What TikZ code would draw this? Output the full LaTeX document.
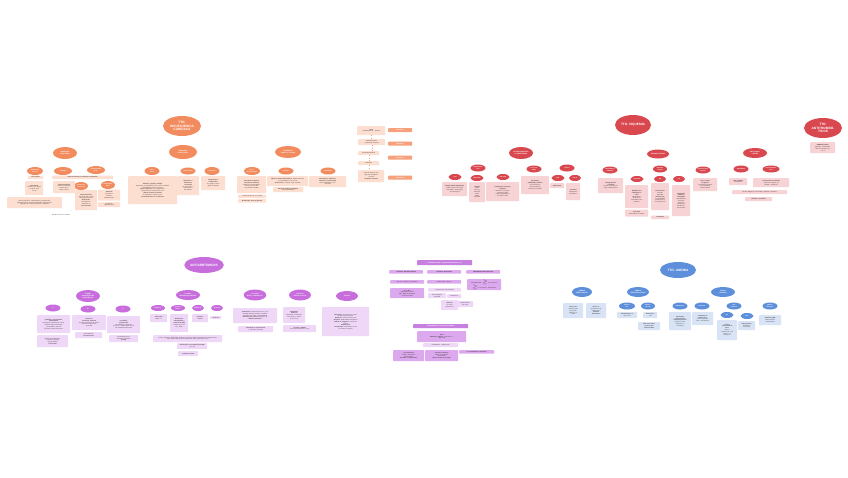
\documentclass[tikz,border=0pt]{standalone}
\usepackage{fontspec}
\setmainfont{Liberation Sans}
\usetikzlibrary{shapes.geometric}
\definecolor{ora}{HTML}{F28B5E}
\definecolor{oral}{HTML}{FDDFD2}
\definecolor{orat}{HTML}{F6A07C}
\definecolor{redb}{HTML}{D9474F}
\definecolor{redl}{HTML}{F7D3D5}
\definecolor{purb}{HTML}{C86DDC}
\definecolor{purl}{HTML}{EFD8F7}
\definecolor{purm}{HTML}{DCA9EE}
\definecolor{purh}{HTML}{C77FE0}
\definecolor{blub}{HTML}{5E8FDB}
\definecolor{blul}{HTML}{D8E4F6}
\definecolor{txt}{HTML}{3D3535}
\newcommand{\bxx}[6]{\node[#1, anchor=north west, text width=#4pt, minimum height=#5pt] (#2) at (#3) {#6};}
\newcommand{\blb}[6]{\node[#1, minimum width=#4pt, minimum height=#5pt] (#2) at (#3) {#6};}
\tikzset{
  blobbase/.style={ellipse, inner sep=0.1pt, text=white, align=center},
  bigblob/.style={blobbase, font=\fontsize{3.2}{3.7}\selectfont\bfseries},
  midblob/.style={blobbase, font=\fontsize{1.6}{1.9}\selectfont\bfseries},
  smblob/.style={blobbase, font=\fontsize{1.35}{1.6}\selectfont\bfseries},
  otitle/.style={bigblob, fill=ora}, oblob/.style={midblob, fill=ora}, osb/.style={smblob, fill=ora},
  rtitle/.style={bigblob, fill=redb}, rblob/.style={midblob, fill=redb}, rsb/.style={smblob, fill=redb},
  ptitle/.style={bigblob, fill=purb}, pblob/.style={midblob, fill=purb}, psb/.style={smblob, fill=purb},
  btitle/.style={bigblob, fill=blub}, bblob/.style={midblob, fill=blub}, bsb/.style={smblob, fill=blub},
  bxbase/.style={rectangle, rounded corners=0.6pt, inner xsep=0.5pt, inner ysep=0.3pt,
    font=\fontsize{1.45}{1.8}\selectfont, text=txt, align=center},
  obx/.style={bxbase, fill=oral}, otag/.style={bxbase, fill=orat, font=\fontsize{1.45}{1.8}\selectfont\bfseries, text=white},
  rbx/.style={bxbase, fill=redl}, pbx/.style={bxbase, fill=purl}, pmx/.style={bxbase, fill=purm},
  phx/.style={bxbase, fill=purh, text=white, font=\fontsize{1.45}{1.8}\selectfont\bfseries},
  bbx/.style={bxbase, fill=blul},
  otxt/.style={font=\fontsize{1.45}{1.8}\selectfont, text=txt, inner sep=0.3pt},
  ocon/.style={draw=orat, line width=0.4pt, dotted}
}
\begin{document}
\begin{tikzpicture}[x=1pt, y=-1pt]
\fill[white] (0,0) rectangle (848,477);
\useasboundingbox (0,0) rectangle (848,477);
% ================= ORANGE: INSUFICIENCIA CARDIACA =================
\blb{otitle}{IC}{182,126}{38}{20}{TTO.\\INSUFICIENCIA\\CARDIACA}
\blb{oblob}{oA}{65,153}{24}{12}{DISMINUIR\\PRECARGA}
\blb{oblob}{oB}{183,152}{28}{14}{DISMINUIR\\POSTCARGA}
\blb{oblob}{oC}{288,152}{26}{12}{AUMENTAR\\CONTRACTILIDAD}
\blb{osb}{oa1}{35,171}{16}{8}{DIURÉTICOS\\DE ASA}
\blb{osb}{oa2}{63,171}{18}{8}{TIAZIDAS}
\blb{osb}{oa3}{96,170}{18}{8}{AHORRADORES\\DE K+}
\blb{osb}{oa4}{81,186}{14}{8}{ANTIALDOS-\\TERÓNICOS}
\blb{osb}{oa5}{108,185}{14}{8}{INHIBIDORES\\ENaC}
\bxx{obx}{ol1}{28,175.5}{14}{3.5}{\textbf{Furosemida}}
\bxx{obx}{ol2}{52,175.5}{60}{3.5}{\textbf{Hidroclorotiazida, clortalidona, indapamida}}
\bxx{obx}{ob1}{25,181}{17}{14}{\textbf{Furosemida}\\Edemas, ICC aguda\\y crónica, HTA\\con IR}
\bxx{obx}{ob2}{53,181}{21}{12}{\textbf{Hidroclorotiazida}\\HTA leve-moderada,\\edemas leves,\\litiasis cálcica}
\bxx{obx}{ob3}{75,190}{21}{20}{\textbf{Espironolactona}\\ICC grave (FE < 35\%),\\hiperaldosteronismo\\\textbf{Eplerenona}\\post-IAM con\\disfunción VI\\\textbf{Ginecomastia}}
\bxx{obx}{ob4}{98,189.5}{21}{11}{\textbf{Amilorida}\\triamtereno\\Evitan la\\hipopotasemia}
\bxx{obx}{ob5}{98,202}{21}{5}{Riesgo de\\hiperpotasemia}
\bxx{obx}{ob6}{7,197}{54}{11}{Efectos adversos: hipopotasemia, hiponatremia,\\hipomagnesemia, alcalosis metabólica, hiperuricemia,\\hiperglucemia, ototoxicidad (asa), dislipemia}
\node[otxt] (ob7) at (61,215) {Diuréticos de asa > tiazidas};
\blb{osb}{obl1}{152,171}{15}{8}{IECA\\ARA II}
\blb{osb}{obl2}{188,171}{15}{7}{HIDRALAZINA}
\blb{osb}{obl3}{212,171}{15}{8}{NITRATOS}
\bxx{obx}{obb1}{128,176}{48}{28}{\textbf{Enalapril, captopril, ramipril}\\Disminuyen la mortalidad en ICC con FE reducida.\\Vasodilatación arterial y venosa\\\textbf{Efectos adversos:} tos, angioedema,\\hiperpotasemia, insuficiencia renal\\\textbf{ARA II: losartán, valsartán}\\si intolerancia a IECA por tos\\\textbf{Contraindicados en el embarazo}}
\bxx{obx}{obb2}{177,176}{21}{19}{\textbf{Hidralazina +}\\\textbf{dinitrato de}\\\textbf{isosorbida}\\En raza negra o\\intolerancia a\\IECA/ARA II}
\bxx{obx}{obb3}{201,176}{23}{14}{\textbf{Nitroglicerina,}\\\textbf{nitroprusiato}\\ICC aguda, edema\\agudo de pulmón}
\blb{osb}{oc1}{252,171}{16}{8}{BETA-\\BLOQUEANTES}
\blb{osb}{oc2}{286,171}{15}{7}{DIGOXINA}
\blb{osb}{oc3}{328,171}{15}{7}{INOTROPOS}
\bxx{obx}{obc1}{237,176}{28}{17}{\textbf{Carvedilol, bisoprolol,}\\\textbf{metoprolol, nebivolol}\\Disminuyen la mortalidad.\\Iniciar a dosis bajas\\en pacientes estables}
\bxx{obx}{obc2}{238,194.5}{27}{3.5}{Contraindicados en ICC aguda}
\bxx{obx}{obc3}{238,199}{27}{3.5}{\textbf{Bradicardia, broncoespasmo}}
\bxx{obx}{obc4}{267,176}{40}{10}{\textbf{Inhibe la bomba Na/K ATPasa.} Mejora síntomas,\\no la mortalidad. ICC con FA\\\textbf{Intoxicación:} náuseas, visión amarilla}
\bxx{obx}{obc5}{273,187}{29}{5}{\textbf{Estrecho margen terapéutico}\\niveles plasmáticos}
\bxx{obx}{obc6}{309,176}{36}{11}{\textbf{Dobutamina, dopamina,}\\\textbf{milrinona, levosimendán}\\Shock cardiogénico, ICC\\refractaria}
% steps
\bxx{obx}{os1}{357,126}{27}{9}{\textbf{IECA}\\+ betabloqueante + diurético}
\bxx{obx}{os2}{358,139}{26}{6}{Antialdosterónico\\si persisten síntomas}
\bxx{obx}{os3}{358,151}{20}{4}{Sacubitrilo/valsartán}
\bxx{obx}{os4}{358,161}{20}{4}{Ivabradina}
\bxx{obx}{os5}{358,170}{25}{12}{Resincronización, DAI,\\digoxina, hidralazina\\+ nitratos\\\textbf{Trasplante cardíaco}}
\bxx{otag}{ot1}{388,128}{23}{4}{ESTADIO 1}
\bxx{otag}{ot2}{388,141.5}{23}{4}{ESTADIO 2}
\bxx{otag}{ot3}{388,155.5}{23}{4}{ESTADIO 3}
\bxx{otag}{ot4}{388,175.5}{23}{4}{ESTADIO 4}
\draw[ocon] (os1.south) -- (os1.south |- os2.north);
\draw[ocon] (os2.south) -- (os2.south |- os3.north);
\draw[ocon] (os3.south) -- (os3.south |- os4.north);
\draw[ocon] (os4.south) -- (os4.south |- os5.north);
% ================= RED: ANTIAGREGANTES =================
\blb{rblob}{rA}{521,153}{24}{12}{ANTIAGREGANTES\\PLAQUETARIOS}
\blb{rsb}{ra1}{478,168}{15}{7}{INHIBIDORES\\COX}
\blb{rsb}{ra2}{534,169}{15}{7}{BLOQ. GP\\IIb/IIIa}
\blb{rsb}{ra3}{567,168}{15}{7}{OTROS}
\blb{rsb}{ra4}{455,177}{13}{6}{AAS}
\blb{rsb}{ra5}{477,178}{13}{6}{TRIFLUSAL}
\blb{rsb}{ra6}{503,177}{13}{6}{ANTI-ADP}
\blb{rsb}{ra7}{558,178}{13}{6}{PDE}
\blb{rsb}{ra8}{575,178}{12}{6}{PDE III}
\bxx{rbx}{rab1}{442,182}{24}{14}{\textbf{ÁCIDO ACETILSALICÍLICO}\\Inhibe la COX-1 de forma\\irreversible. Dosis bajas\\75--300 mg/día}
\bxx{rbx}{rab2}{469,182}{15}{20}{\textbf{Triflusal}\\Inhibe\\COX-1 y\\fosfodies-\\terasa\\Menos\\sangrado}
\bxx{rbx}{rab3}{486,182}{32}{19}{\textbf{Clopidogrel, prasugrel,}\\\textbf{ticagrelor}\\Bloquean el receptor\\P2Y12 del ADP\\Doble antiagregación\\tras SCA o stent}
\bxx{rbx}{rab4}{521,176}{27}{18}{\textbf{Abciximab,}\\\textbf{eptifibatida, tirofibán}\\Vía intravenosa.\\Intervencionismo\\coronario percutáneo}
\bxx{rbx}{rab5}{550,183}{13}{5}{\textbf{Dipiridamol}}
\bxx{rbx}{rab6}{566,183}{13}{17}{\textbf{Cilostazol}\\Claudicación\\intermitente}
% ================= RED: ISQUEMIA =================
\blb{rtitle}{rI}{633,125}{36}{20}{TTO. ISQUEMIA}
\blb{rblob}{rI1}{658,154}{22}{9}{ANGINA ESTABLE}
\blb{rsb}{rI2}{610,170}{15}{7}{TRATAMIENTO\\GENERAL}
\blb{rsb}{rI3}{660,169}{14}{7}{ANTIANGI-\\NOSOS}
\blb{rsb}{rI4}{637,179}{13}{6}{NITRATOS}
\blb{rsb}{rI5}{660,179}{12}{6}{BB}
\blb{rsb}{rI6}{679,179}{12}{6}{ACA}
\blb{rsb}{rI7}{703,170}{15}{7}{REVASCULARI-\\ZACIÓN}
\bxx{rbx}{rib1}{598,178}{24}{15}{\textbf{Antiagregación}\\\textbf{+ estatinas}\\Control de factores de\\riesgo cardiovascular}
\bxx{rbx}{rib2}{625,185}{22}{23}{\textbf{Nitroglicerina}\\\textbf{sublingual en}\\\textbf{crisis}\\Mononitrato y\\dinitrato de\\isosorbida como\\profilaxis}
\bxx{rbx}{rib3}{625,209.5}{22}{7}{\textbf{Tolerancia}\\periodo libre de nitratos}
\bxx{rbx}{rib4}{651,183}{17}{27}{\textbf{Primera línea}\\Atenolol,\\bisoprolol\\\textbf{Reducen FC}\\y contractilidad\\Disminuyen el\\consumo de O2}
\bxx{rbx}{rib5}{651,215.5}{17}{3.5}{\textbf{Ivabradina}}
\bxx{rbx}{rib6}{672,185}{17}{31}{\textbf{Verapamilo,}\\\textbf{diltiazem,}\\\textbf{amlodipino}\\Vasodilatación\\coronaria.\\Angina de\\Prinzmetal\\Ranolazina,\\trimetazidina}
\bxx{rbx}{rib7}{693,178}{23}{13}{\textbf{ICP o cirugía}\\\textbf{de bypass}\\Si persisten síntomas\\con tratamiento\\médico óptimo}
% ================= RED: ANTICOAGULANTES =================
\blb{rblob}{rC}{755,153}{24}{10}{ANTICOAGU-\\LANTES}
\blb{rsb}{rC1}{741,169}{15}{7}{HEPARINAS}
\blb{rsb}{rC2}{771,169}{17}{7}{ANTAGONISTAS\\VIT. K}
\bxx{rbx}{rcb1}{729,178}{17}{7}{\textbf{HNF y HBPM}\\enoxaparina}
\bxx{rbx}{rcb2}{753,178}{35}{9}{\textbf{Acenocumarol, warfarina}\\Control con INR (2--3)\\Antídoto: vitamina K}
\bxx{rbx}{rcb3}{732,190}{54}{4}{ACOD: dabigatrán, rivaroxabán, apixabán, edoxabán}
\bxx{rbx}{rcb4}{745,197}{26}{4}{\textbf{Antídoto: protamina}}
\blb{rtitle}{rT}{823,128}{38}{20}{TTO.\\ANTITROMBÓ-\\TICOS}
\bxx{rbx}{rT1}{810,142}{24}{11}{\textbf{FIBRINOLÍTICOS}\\Alteplasa, tenecteplasa\\IAM con elevación ST\\< 12 h}
% ================= PURPLE: ANTIARRITMICOS =================
\blb{ptitle}{pT}{204,265}{36}{16}{ANTIARRÍTMICOS}
\blb{pblob}{pA}{88,296}{24}{12}{CLASE I\\BLOQUEANTES\\CANALES Na+}
\blb{psb}{pa1}{53,308}{15}{7}{IA}
\blb{psb}{pa2}{88,309}{15}{7}{IB}
\blb{psb}{pa3}{123,309}{15}{7}{IC}
\bxx{pbx}{pab1}{37,315}{32}{18}{\textbf{Quinidina, procainamida,}\\\textbf{disopiramida}\\Prolongan el potencial de acción.\\Arritmias supraventriculares\\y ventriculares. Efectos:\\QT largo, torsade de pointes}
\bxx{pbx}{pab2}{37,335}{30}{12}{Efectos anticolinérgicos,\\síndrome lupus-like\\(procainamida)\\\textbf{Cinconismo}}
\bxx{pbx}{pab3}{72,315}{33}{15}{\textbf{Lidocaína,}\\\textbf{mexiletina, fenitoína}\\Acortan el potencial de acción.\\Arritmias ventriculares\\post-IAM}
\bxx{pbx}{pab4}{75,332}{26}{6}{Toxicidad SNC\\\textbf{Vía intravenosa}}
\bxx{pbx}{pab5}{107,316}{32}{17}{\textbf{Flecainida,}\\\textbf{propafenona}\\No modifican el potencial\\de acción. Cardioversión de FA\\sin cardiopatía estructural}
\bxx{pbx}{pab6}{109,335}{28}{7}{Contraindicados en\\cardiopatía isquémica\\\textbf{(CAST)}}
\blb{pblob}{pB}{188,295}{24}{10}{CLASE II\\BETABLOQUEANTES}
\blb{psb}{pb1}{158,308}{14}{6}{ESMOLOL}
\blb{psb}{pb2}{178,308}{14}{6}{PROPRA-\\NOLOL}
\blb{psb}{pb3}{198,308}{12}{6}{ATENOLOL}
\blb{psb}{pb4}{217,308}{12}{6}{SOTALOL}
\bxx{pbx}{pbb1}{150,314}{16}{8}{\textbf{Vida media}\\\textbf{corta}, i.v.}
\bxx{pbx}{pbb2}{170,314}{17}{18}{\textbf{Disminuyen}\\\textbf{automatismo y}\\\textbf{conducción NAV}\\Control de FC en\\FA y flutter}
\bxx{pbx}{pbb3}{192,314}{15}{8}{\textbf{Cardiose-}\\\textbf{lectivo}}
\bxx{pbx}{pbb4}{210,316}{10}{3}{\textbf{Clase III}}
\bxx{pbx}{pbb5}{153,335}{68}{7}{Efectos adversos: bradicardia, bloqueo AV, broncoespasmo, hipoglucemia enmascarada,\\insuficiencia cardíaca descompensada, fatiga, disfunción eréctil}
\bxx{pbx}{pbb6}{177,343}{29}{6}{\textbf{Disminuyen la mortalidad post-IAM}\\y en ICC}
\bxx{pbx}{pbb7}{178,351}{19}{5}{\textbf{Profilaxis de MS}}
\blb{pblob}{pC}{255,295}{22}{11}{CLASE III\\BLOQ. CANALES K+}
\blb{pblob}{pD}{300,295}{22}{11}{CLASE IV\\ANTAG. CALCIO}
\blb{pblob}{pE}{347,296}{22}{10}{OTROS}
\bxx{pbx}{pcb1}{233,308}{43}{15}{\textbf{Amiodarona:} amplio espectro, FA y TV.\\Toxicidad tiroidea, pulmonar, hepática,\\depósitos corneales, fotosensibilidad\\\textbf{Dronedarona, sotalol:} prolongan QT\\\textbf{Ibutilida, dofetilida}}
\bxx{pbx}{pcb2}{238,326}{34}{6}{\textbf{Prolongan la repolarización}\\y el periodo refractario}
\bxx{pbx}{pdb1}{283,307}{21}{16}{\textbf{Verapamilo,}\\\textbf{diltiazem}\\Disminuyen conducción\\NAV. TPSV y control\\de FC en FA}
\bxx{pbx}{pdb2}{283,325}{32}{7}{\textbf{No usar en WPW}\\con FA preexcitada ni en ICC}
\bxx{pbx}{peb1}{322,307}{46}{29}{\textbf{Adenosina:} de elección en TPSV,\\bloqueo NAV transitorio.\\\textbf{Digoxina:} control de frecuencia\\\textbf{Atropina:} bradicardias sintomáticas\\\textbf{Sulfato de magnesio:} torsade de\\pointes\\\textbf{Isoproterenol}\\\textbf{Vernakalant:} cardioversión de FA\\de reciente comienzo}
% ================= PURPLE: FA TABLE =================
\bxx{phx}{ph1}{417,260}{54}{5}{TRATAMIENTO DE LA FIBRILACIÓN AURICULAR}
\bxx{pmx}{pt11}{389,270}{33}{3.5}{\textbf{CONTROL DE FRECUENCIA}}
\bxx{pmx}{pt12}{427,270}{33}{3.5}{\textbf{CONTROL DEL RITMO}}
\bxx{pmx}{pt13}{466,270}{33}{3.5}{\textbf{PREVENCIÓN DE EMBOLIAS}}
\bxx{pmx}{pt21}{390,280}{33}{3.5}{BB, ACA, digoxina, amiodarona}
\bxx{pmx}{pt22}{427,280}{33}{3.5}{Cardioversión eléctrica}
\bxx{pmx}{pt23}{467,279}{33}{7}{CHA2DS2-VASc $\geq$ 2 en varones,\\$\geq$ 3 en mujeres: anticoagular}
\bxx{pmx}{pt31}{390,288}{33}{10}{\textbf{FA < 48 h}\\cardioversión directa\\\textbf{FA > 48 h}: anticoagular\\3 semanas antes}
\bxx{pbx}{pt32}{428,288}{32}{3.5}{Cardioversión farmacológica}
\bxx{pbx}{pt33}{428,293}{17}{5}{Sin cardiopatía:\\flecainida}
\bxx{pbx}{pt34}{447,294}{13}{4}{Amiodarona}
\bxx{pbx}{pt35}{441,300}{16}{10}{\textbf{Ablación}\\de venas\\pulmonares}
\bxx{pbx}{pt36}{457,301}{15}{6}{Mantenimiento\\del ritmo}
\bxx{phx}{ph2}{413,324}{54}{4}{TRATAMIENTO DE LAS TAQUICARDIAS}
\bxx{pmx}{pq1}{417,331}{48}{11}{\textbf{TPSV}\\\textbf{Maniobras vagales}, adenosina i.v.,\\verapamilo}
\bxx{pbx}{pq2}{423,343}{34}{4}{Inestabilidad: cardioversión}
\bxx{pmx}{pq3}{393,350}{30}{11}{\textbf{TV monomorfa}\\estable: amiodarona,\\procainamida\\\textbf{Inestable: cardioversión}}
\bxx{pmx}{pq4}{425,350}{32}{11}{\textbf{Torsade de pointes}\\sulfato de magnesio,\\marcapasos\\\textbf{Retirar fármacos QT largo}}
\bxx{pmx}{pq5}{459,350}{34}{3.5}{\textbf{FV: desfibrilación inmediata}}
% ================= BLUE: ANEMIA =================
\blb{btitle}{bT}{678,270}{36}{16}{TTO. ANEMIA}
\blb{bblob}{bA}{582,292}{20}{10}{ANEMIA\\FERROPÉNICA}
\blb{bblob}{bB}{638,292}{22}{10}{ANEMIA\\MEGALOBLÁSTICA}
\blb{bblob}{bC}{723,292}{24}{10}{OTRAS\\ANEMIAS}
\blb{bsb}{bb1}{627,306}{16}{7}{DÉFICIT\\B12}
\blb{bsb}{bb2}{648,306}{14}{7}{DÉFICIT\\FOLATO}
\blb{bsb}{bb3}{680,306}{15}{7}{HEMOLÍTICA}
\blb{bsb}{bb4}{702,306}{15}{7}{APLÁSICA}
\blb{bsb}{bb5}{734,306}{15}{7}{ENF.\\CRÓNICA}
\blb{bsb}{bb6}{727,315}{13}{6}{IRC}
\blb{bsb}{bb7}{747,316}{13}{6}{EPO}
\blb{bsb}{bb8}{770,306}{15}{7}{SIDERO-\\BLÁSTICA}
\bxx{bbx}{bx1}{563,303}{19}{15}{\textbf{Hierro oral}\\sulfato ferroso\\en ayunas.\\Mínimo 3--6\\meses}
\bxx{bbx}{bx2}{586,303}{19}{15}{\textbf{Hierro i.v.}\\intolerancia oral,\\malabsorción,\\\textbf{pérdidas}\\\textbf{importantes}}
\bxx{bbx}{bx3}{617,312}{19}{6}{\textbf{Vitamina B12 i.m.}\\de por vida}
\bxx{bbx}{bx4}{643,312}{13}{6}{\textbf{Ácido fólico}\\oral}
\bxx{bbx}{bx5}{638,322}{21}{8}{\textbf{Nunca dar fólico}\\\textbf{sin descartar}\\\textbf{déficit de B12}}
\bxx{bbx}{bx6}{669,312}{21}{18}{\textbf{Corticoides,}\\\textbf{esplenectomía,}\\\textbf{inmunosupresores}\\Según la causa:\\autoinmune o\\hereditaria}
\bxx{bbx}{bx7}{692,312}{20}{13}{\textbf{Trasplante de}\\\textbf{médula ósea}\\Inmunosupresión:\\ATG + ciclosporina}
\bxx{bbx}{bx8}{717,320}{19}{20}{\textbf{Tratar la}\\\textbf{enfermedad de}\\\textbf{base}\\EPO si\\insuficiencia renal\\Hierro i.v. si\\ferropenia}
\bxx{bbx}{bx9}{738,321}{16}{9}{\textbf{Eritropoyetina}\\Hb objetivo\\10--12 g/dL}
\bxx{bbx}{bx10}{759,315}{21}{10}{\textbf{Piridoxina (B6)}\\Retirar tóxicos\\Transfusiones}
\end{tikzpicture}
\end{document}
